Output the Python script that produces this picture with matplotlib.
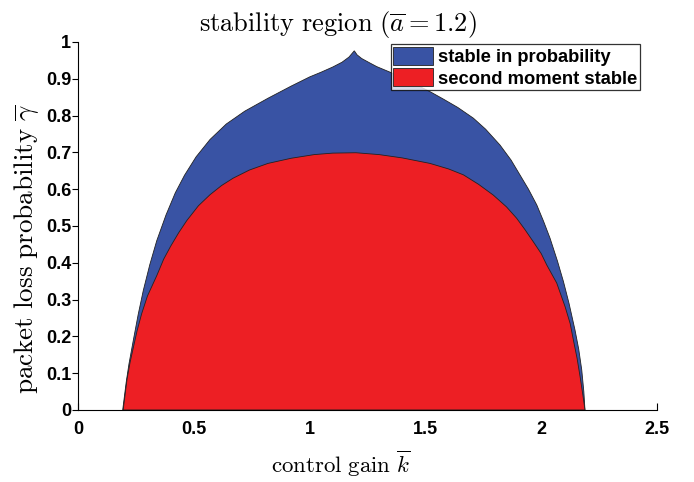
import numpy as np
import matplotlib
matplotlib.use("Agg")
import matplotlib.pyplot as plt

plt.rcParams['mathtext.fontset'] = 'cm'

# boundary of the region that is stable in probability (upper gamma for each gain k)
k_prob = [0.193, 0.200, 0.208, 0.220, 0.239, 0.260, 0.282, 0.310, 0.340, 0.380,
          0.420, 0.460, 0.510, 0.570, 0.640, 0.720, 0.820, 0.920, 1.000, 1.050,
          1.100, 1.140, 1.170, 1.193, 1.205, 1.225, 1.260, 1.290, 1.347, 1.400,
          1.460, 1.520, 1.577, 1.640, 1.707, 1.760, 1.822, 1.870, 1.908, 1.945,
          1.981, 2.010, 2.038, 2.070, 2.096, 2.120, 2.146, 2.162, 2.175, 2.184,
          2.189]
g_prob = [0.0, 0.035, 0.075, 0.125, 0.190, 0.260, 0.325, 0.395, 0.460, 0.530,
          0.590, 0.638, 0.688, 0.735, 0.777, 0.812, 0.847, 0.880, 0.905, 0.918,
          0.932, 0.945, 0.959, 0.976, 0.965, 0.955, 0.943, 0.933, 0.918, 0.903,
          0.884, 0.865, 0.845, 0.822, 0.793, 0.763, 0.720, 0.679, 0.639, 0.600,
          0.557, 0.513, 0.467, 0.405, 0.349, 0.290, 0.217, 0.165, 0.109, 0.050,
          0.0]

# boundary of the second moment stable region
k_ms = [0.195, 0.203, 0.212, 0.225, 0.239, 0.255, 0.275, 0.300, 0.340, 0.370,
        0.400, 0.435, 0.470, 0.520, 0.570, 0.620, 0.670, 0.740, 0.820, 0.920,
        1.020, 1.100, 1.200, 1.300, 1.400, 1.520, 1.600, 1.664, 1.730, 1.793,
        1.850, 1.894, 1.930, 1.966, 2.000, 2.024, 2.067, 2.103, 2.125, 2.139,
        2.155, 2.168, 2.180, 2.189]
g_ms = [0.0, 0.040, 0.085, 0.130, 0.170, 0.215, 0.262, 0.310, 0.365, 0.410,
        0.445, 0.482, 0.515, 0.555, 0.585, 0.610, 0.630, 0.652, 0.670, 0.684,
        0.694, 0.698, 0.699, 0.694, 0.685, 0.670, 0.655, 0.639, 0.613, 0.584,
        0.552, 0.521, 0.490, 0.457, 0.425, 0.394, 0.345, 0.281, 0.235, 0.190,
        0.140, 0.090, 0.040, 0.0]

xticks = [0, 0.5, 1, 1.5, 2, 2.5]
xticklabels = ['0', '0.5', '1', '1.5', '2', '2.5']
yticks = np.round(np.arange(0, 1.01, 0.1), 1)
yticklabels = ['0', '0.1', '0.2', '0.3', '0.4', '0.5', '0.6', '0.7', '0.8', '0.9', '1']

blue = '#3953a4'
red = '#ed1f24'

fig = plt.figure(figsize=(6.94, 4.82), dpi=100)
ax = fig.add_axes([0.1124, 0.1494, 0.8343, 0.7635])

ax.fill(k_prob, g_prob, facecolor=blue, edgecolor='#222222', linewidth=0.6,
        label='stable in probability')
ax.fill(k_ms, g_ms, facecolor=red, edgecolor='#222222', linewidth=0.6,
        label='second moment stable')

ax.set_xlim(0, 2.5)
ax.set_ylim(0, 1)
ax.set_axisbelow(True)
ax.spines['top'].set_visible(False)
ax.spines['right'].set_visible(False)
ax.spines['left'].set_linewidth(0.8)
ax.spines['bottom'].set_linewidth(0.8)

tick_font = dict(family='Liberation Sans', weight='bold', size=13)
ax.set_xticks(xticks)
ax.set_xticklabels(xticklabels, fontdict=tick_font)
ax.set_yticks(yticks)
ax.set_yticklabels(yticklabels, fontdict=tick_font)
ax.tick_params(axis='x', direction='in', length=5, width=0.8, pad=8)
ax.tick_params(axis='y', direction='out', length=4, width=0.8, pad=1)

# title and axis labels sit left of the axes centre
fig.text(0.487, 0.9357, r'$\mathrm{stability\ region}\ (\overline{a} = 1.2)$',
         fontsize=19, ha='center', va='baseline')
fig.text(0.4914, 0.0187, r'$\mathrm{control\ gain}\ \overline{k}$',
         fontsize=16.5, ha='center', va='baseline')
fig.text(0.039, 0.483, r'$\mathrm{packet\ loss\ probability}\ \overline{\gamma}$',
         fontsize=19.5, ha='center', va='center', rotation=90)

leg = ax.legend(loc='upper right', bbox_to_anchor=(0.9706, 0.9946),
                prop=dict(family='Liberation Sans', weight='bold', size=13.2),
                frameon=True, fancybox=False, edgecolor='black',
                handlelength=2.18, handleheight=1.15, handletextpad=0.25,
                borderpad=0.15, labelspacing=0.12, borderaxespad=0)
leg.get_frame().set_linewidth(0.9)

fig.savefig('out.png', dpi=100)
